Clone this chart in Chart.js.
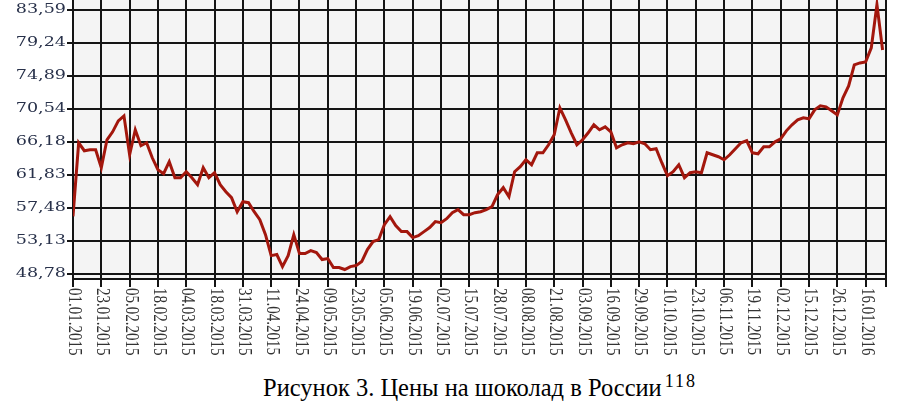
<!DOCTYPE html>
<html>
<head>
<meta charset="utf-8">
<script src="https://cdn.jsdelivr.net/npm/chart.js@4.4.1/dist/chart.umd.min.js"></script>
<style>
  html, body { margin: 0; padding: 0; background: #fff; }
  #wrap { position: relative; width: 902px; height: 405px; overflow: hidden; }
  #chart { position: absolute; left: 0; top: 0; }
  #caption {
    position: absolute; left: 263px; top: 376px; white-space: nowrap;
    font-family: 'Liberation Serif', serif;
    font-size: 24.5px; line-height: 24px; color: #000;
  }
  #caption sup { font-size: 18px; letter-spacing: 2px; margin-left: 3px; vertical-align: 9px; line-height: 0; }
</style>
</head>
<body>
<div id="wrap">
  <canvas id="chart" width="902" height="360"></canvas>
  <div id="caption">Рисунок 3. Цены на шоколад в России<sup>118</sup></div>
</div>
<script>
// Chocolate prices in Russia, 2015 - Jan 2016

// tick labels under the x axis (one every 5 points)
const dateLabels = [
  '01.01.2015', '23.01.2015', '05.02.2015', '18.02.2015', '04.03.2015',
  '18.03.2015', '31.03.2015', '11.04.2015', '24.04.2015', '09.05.2015',
  '23.05.2015', '05.06.2015', '19.06.2015', '02.07.2015', '15.07.2015',
  '28.07.2015', '08.08.2015', '21.08.2015', '03.09.2015', '16.09.2015',
  '29.09.2015', '10.10.2015', '23.10.2015', '06.11.2015', '19.11.2015',
  '02.12.2015', '15.12.2015', '26.12.2015', '16.01.2016'
];
const pointsPerLabel = 5;

// y axis tick values
const yTicks = [48.78, 53.13, 57.48, 61.83, 66.18, 70.54, 74.89, 79.24, 83.59];

// price series
const prices = [
  56.34, 66.05, 65.00, 65.13, 65.13, 62.76, 66.45, 67.50, 68.95, 69.61,
  64.47, 67.77, 65.66, 66.05, 64.07, 62.49, 61.97, 63.55, 61.44, 61.44,
  62.23, 61.44, 60.51, 62.76, 61.44, 62.10, 60.51, 59.59, 58.80, 56.95,
  58.27, 58.14, 56.95, 55.90, 53.92, 51.15, 51.29, 49.70, 51.15, 53.92,
  51.42, 51.42, 51.81, 51.55, 50.63, 50.76, 49.57, 49.57, 49.31, 49.70,
  49.83, 50.36, 51.94, 53.00, 53.26, 55.24, 56.30, 55.11, 54.32, 54.32,
  53.53, 53.79, 54.32, 54.85, 55.64, 55.50, 56.03, 56.82, 57.22, 56.56,
  56.56, 56.82, 56.95, 57.22, 57.61, 59.20, 60.12, 58.93, 62.23, 62.89,
  63.81, 63.15, 64.73, 64.73, 65.79, 67.11, 70.67, 69.08, 67.37, 65.79,
  66.45, 67.37, 68.43, 67.77, 68.16, 67.50, 65.39, 65.79, 66.05, 65.92,
  66.18, 65.92, 65.13, 65.26, 63.42, 61.70, 62.23, 63.15, 61.44, 62.10,
  62.23, 62.10, 64.73, 64.47, 64.21, 63.81, 64.47, 65.26, 66.05, 66.32,
  64.73, 64.60, 65.52, 65.52, 66.18, 66.58, 67.63, 68.43, 69.08, 69.35,
  69.22, 70.40, 70.93, 70.80, 70.27, 69.74, 71.99, 73.57, 76.34, 76.60,
  76.73, 78.58, 84.30, 78.31
];

const X_MAX = 143.6;
const Y_MIN = 48.06;
const Y_MAX = 84.91;

const gridColor = '#141414';

// light plot background + hand-drawn tick labels (x labels read top-to-bottom)
const paperPlugin = {
  id: 'paper',
  beforeDraw(chart) {
    const { ctx, chartArea } = chart;
    ctx.save();
    ctx.fillStyle = '#f4f4f4';
    ctx.fillRect(chartArea.left, chartArea.top, chartArea.right - chartArea.left, chartArea.bottom - chartArea.top);
    ctx.restore();
  },
  afterDraw(chart) {
    const { ctx } = chart;
    const xs = chart.scales.x;
    const ys = chart.scales.y;

    // y labels
    ctx.save();
    ctx.fillStyle = '#28314a';
    ctx.font = '13.5px "DejaVu Serif"';
    ctx.textAlign = 'right';
    ctx.textBaseline = 'middle';
    yTicks.forEach(v => {
      const y = ys.getPixelForValue(v);
      ctx.save();
      ctx.translate(66, y);
      ctx.scale(1.3, 1);
      ctx.fillText(v.toFixed(2).replace('.', ','), 0, 0);
      ctx.restore();
    });
    ctx.restore();

    // x labels, rotated clockwise
    ctx.save();
    ctx.fillStyle = '#333';
    ctx.font = '15px "Liberation Serif"';
    ctx.textAlign = 'left';
    ctx.textBaseline = 'middle';
    dateLabels.forEach((d, i) => {
      const x = xs.getPixelForValue(i * pointsPerLabel);
      ctx.save();
      ctx.translate(x + 1, 288);
      ctx.rotate(Math.PI / 2);
      ctx.scale(1, 1.25);
      ctx.fillText(d, 0, 0);
      ctx.restore();
    });
    ctx.restore();
  }
};

const ctx = document.getElementById('chart').getContext('2d');
new Chart(ctx, {
  type: 'line',
  data: {
    datasets: [{
      label: 'Цена',
      data: prices.map((v, i) => ({ x: i, y: v })),
      borderColor: '#a3170d',
      borderWidth: 3,
      pointRadius: 0,
      tension: 0,
      fill: false
    }]
  },
  options: {
    responsive: false,
    animation: false,
    layout: { padding: { left: 0, right: 16, top: 0, bottom: 0 } },
    plugins: {
      legend: { display: false },
      tooltip: { enabled: false }
    },
    scales: {
      x: {
        type: 'linear',
        min: 0,
        max: X_MAX,
        afterBuildTicks: axis => {
          axis.ticks = dateLabels.map((d, i) => ({ value: i * pointsPerLabel }))
            .concat([{ value: X_MAX }]);
        },
        afterFit: axis => { axis.height = 81; },
        ticks: { display: false },
        grid: { color: gridColor, lineWidth: 2, tickLength: 8 },
        border: { display: true, color: gridColor, width: 2 }
      },
      y: {
        min: Y_MIN,
        max: Y_MAX,
        afterBuildTicks: axis => {
          axis.ticks = yTicks.map(v => ({ value: v }));
        },
        afterFit: axis => { axis.width = 73; },
        ticks: { display: false },
        grid: { color: gridColor, lineWidth: 2, tickLength: 6 },
        border: { display: true, color: gridColor, width: 2 }
      }
    }
  },
  plugins: [paperPlugin]
});
</script>
</body>
</html>
